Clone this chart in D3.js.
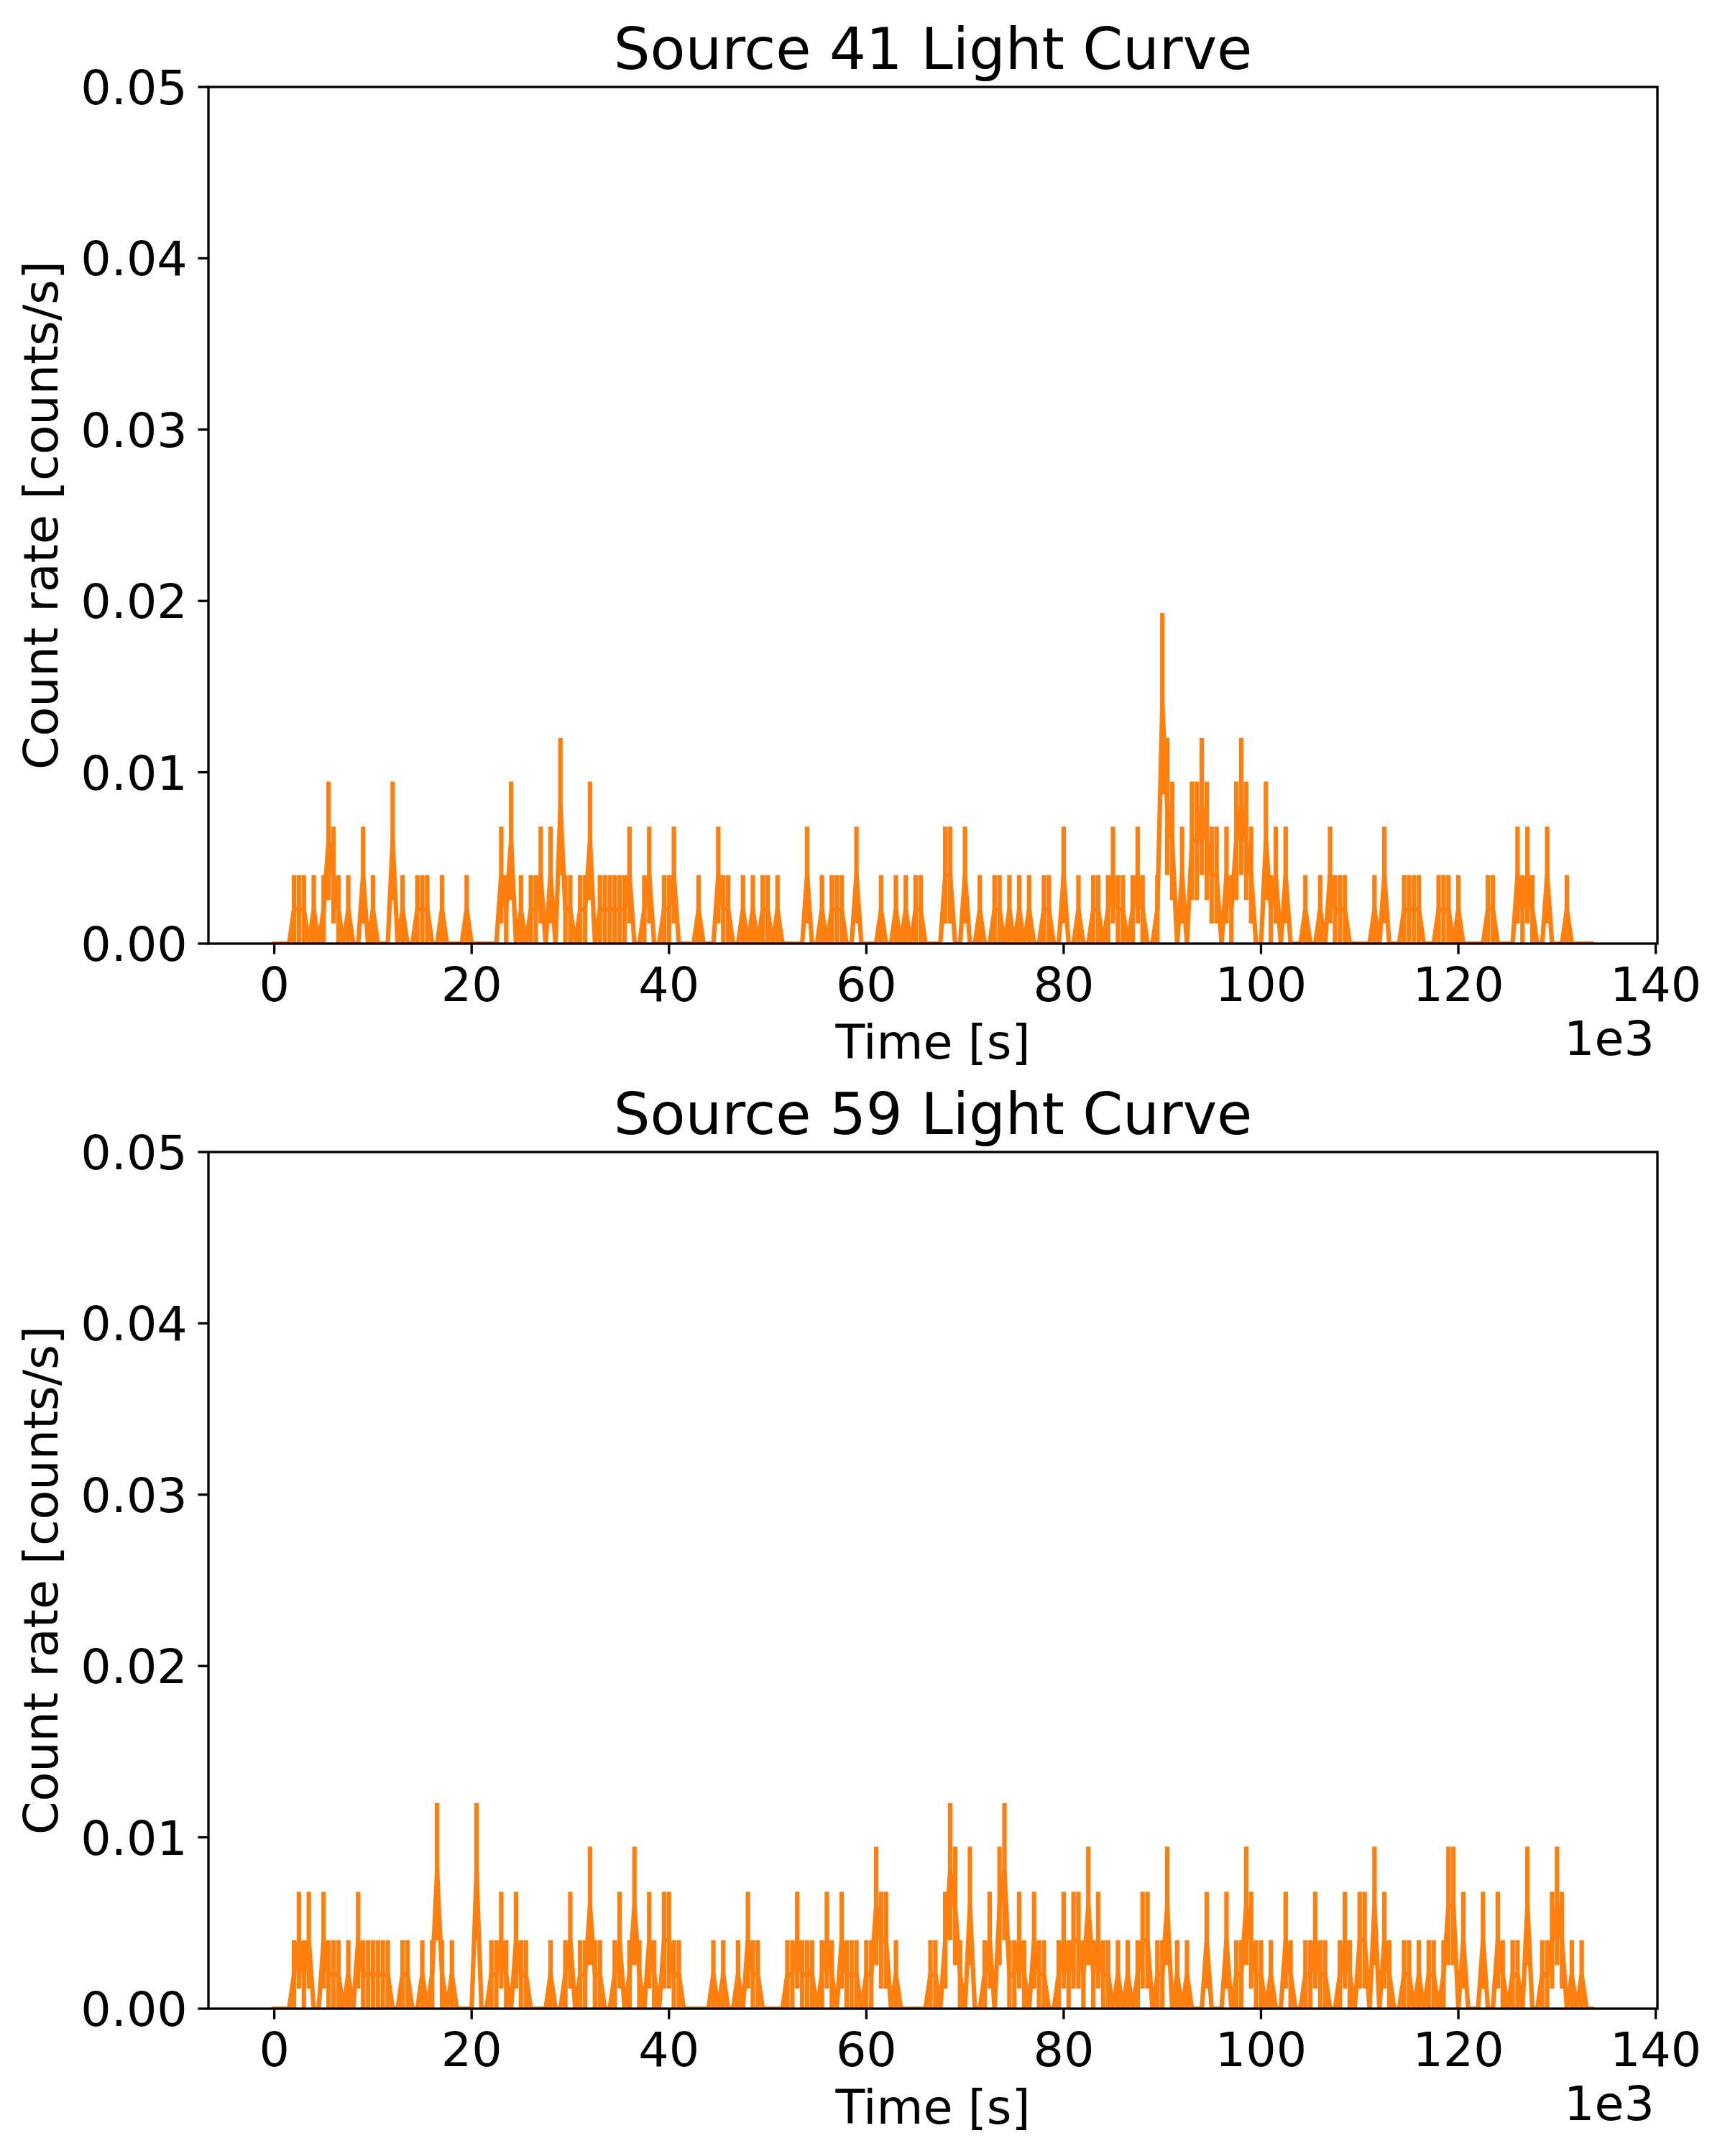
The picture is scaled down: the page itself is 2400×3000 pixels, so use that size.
<!DOCTYPE html>
<html>
<head>
<meta charset="utf-8">
<script src="https://cdn.jsdelivr.net/npm/d3@7"></script>
<style>
html, body { margin: 0; padding: 0; background: #ffffff; }
svg { display: block; }
text { font-family: "DejaVu Sans", sans-serif; fill: #000; }
</style>
</head>
<body>
<svg id="chart" width="2400" height="3000"></svg>
<script>
// ---------------- data ----------------
const binSize = 500; // seconds per bin
const titles = ["Source 41 Light Curve", "Source 59 Light Curve"];

// photon counts per 500 s bin (bin i starts at i*500 s)
const counts41 = [
  0,0,0,0,1,1,1,0,1,0, 1,3,2,1,0,1,0,0,2,0,
  1,0,0,0,3,0,1,0,0,1, 1,1,0,0,1,0,0,0,0,1,
  0,0,0,0,0,0,2,1,3,0, 1,0,1,1,2,0,2,0,4,1,
  1,0,1,1,3,0,1,1,1,1, 1,1,2,0,0,1,2,0,0,1,
  1,2,0,0,0,0,1,0,0,0, 2,1,1,0,0,1,0,1,0,1,
  1,0,1,0,0,0,0,0,2,0, 0,1,0,1,1,1,0,0,2,0,
  0,0,0,1,0,0,1,0,1,0, 1,1,0,0,0,0,2,2,0,0,
  2,0,0,1,0,0,1,1,0,1, 0,1,0,1,0,0,1,1,0,0,
  2,0,0,1,0,0,1,1,0,1, 2,1,1,0,1,2,1,0,0,1,
  7,4,3,0,2,0,3,3,4,3, 2,2,0,2,1,3,4,3,2,0,
  0,3,1,2,0,2,0,0,0,1, 0,0,1,0,2,1,1,1,0,0,
  0,0,0,1,0,2,0,0,0,1, 1,1,1,0,0,0,1,1,1,0,
  1,0,0,0,0,0,1,1,0,0, 0,0,2,1,2,1,0,0,2,0,
  0,0,1,0,0,0,0,0
];
const counts59 = [
  0,0,0,0,1,2,1,2,0,0, 2,1,1,1,0,1,0,2,1,1,
  1,1,1,1,0,0,1,1,0,0, 1,0,1,4,1,0,1,0,0,0,
  0,4,0,0,1,1,2,1,0,2, 1,1,0,0,0,0,1,0,0,1,
  2,0,1,1,3,1,1,0,0,1, 2,0,1,3,1,0,2,1,0,2,
  2,1,1,0,0,0,0,0,0,1, 0,1,0,0,1,0,2,1,1,0,
  0,0,0,0,1,1,2,1,1,1, 0,1,2,1,0,2,1,1,1,0,
  1,1,3,2,2,0,1,0,0,0, 0,0,0,1,1,0,2,4,3,1,
  0,3,0,0,1,2,0,3,4,1, 1,2,1,0,2,1,1,0,0,1,
  2,1,2,2,1,3,1,2,1,1, 0,1,0,1,0,1,2,2,0,1,
  1,3,0,1,0,1,0,0,0,2, 0,0,0,2,0,1,1,3,2,1,
  1,0,1,0,0,2,1,0,0,1, 1,2,1,1,0,0,1,2,1,0,
  2,2,0,3,0,2,1,0,0,1, 1,0,1,0,1,1,0,1,3,3,
  0,2,0,0,0,2,0,0,2,1, 0,1,1,0,3,0,0,1,1,2,
  3,2,0,1,0,1,0,0
];
const allCounts = [counts41, counts59];

const xTicks = [0, 20000, 40000, 60000, 80000, 100000, 120000, 140000];
const xTickLabels = ["0", "20", "40", "60", "80", "100", "120", "140"];
const yTicks = [0, 0.01, 0.02, 0.03, 0.04, 0.05];
const yTickLabels = ["0.00", "0.01", "0.02", "0.03", "0.04", "0.05"];
const xLabel = "Time [s]";
const yLabel = "Count rate [counts/s]";
const offsetLabel = "1e3";

// ---------------- layout ----------------
const W = 2400, H = 3000;
const axLeft = 290, axRight = 2306;
const axTops = [121, 1603];
const axH = 1192;
const orange = "#ff7f0e";
const lw = 6.25;          // 1.5 pt at 300 dpi
const spineW = 3.33;      // 0.8 pt
const tickLen = 14.6;     // 3.5 pt
const tickPad = 14.6;
const fsTick = 66.7;      // 16 pt
const fsTitle = 80;       // 19.2 pt

const svg = d3.select("#chart");
svg.append("rect").attr("width", W).attr("height", H).attr("fill", "#fff");

allCounts.forEach((counts, p) => {
  const data = counts.map((n, i) => ({
    t: i * binSize,
    rate: n / binSize,
    err: Math.sqrt(n) / binSize
  }));
  const tMin = d3.min(data, d => d.t), tMax = d3.max(data, d => d.t);
  const margin = 0.05 * (tMax - tMin);
  const top = axTops[p], bottom = top + axH;

  const x = d3.scaleLinear().domain([tMin - margin, tMax + margin]).range([axLeft, axRight]);
  const y = d3.scaleLinear().domain([0, 0.05]).range([bottom, top]);

  const g = svg.append("g");
  const clipId = "clip" + p;
  g.append("clipPath").attr("id", clipId)
    .append("rect").attr("x", axLeft).attr("y", top).attr("width", axRight - axLeft).attr("height", axH);

  const plot = g.append("g").attr("clip-path", `url(#${clipId})`);

  // data line
  const line = d3.line().x(d => x(d.t)).y(d => y(d.rate));
  plot.append("path").datum(data)
    .attr("d", line)
    .attr("fill", "none")
    .attr("stroke", orange)
    .attr("stroke-width", lw)
    .attr("stroke-linejoin", "round")
    .attr("stroke-linecap", "square");

  // error bars
  plot.append("g").selectAll("line")
    .data(data.filter(d => d.err > 0))
    .join("line")
    .attr("x1", d => x(d.t)).attr("x2", d => x(d.t))
    .attr("y1", d => y(d.rate - d.err)).attr("y2", d => y(d.rate + d.err))
    .attr("stroke", orange)
    .attr("stroke-width", lw)
    .attr("stroke-linecap", "butt");

  // spines
  g.append("rect")
    .attr("x", axLeft).attr("y", top)
    .attr("width", axRight - axLeft).attr("height", axH)
    .attr("fill", "none").attr("stroke", "#000").attr("stroke-width", spineW)
    .attr("stroke-linejoin", "miter");

  // x ticks
  const xt = g.append("g");
  xTicks.forEach((v, k) => {
    const px = x(v);
    xt.append("line")
      .attr("x1", px).attr("x2", px)
      .attr("y1", bottom).attr("y2", bottom + tickLen)
      .attr("stroke", "#000").attr("stroke-width", spineW);
    xt.append("text")
      .attr("x", px).attr("y", bottom + 80)
      .attr("text-anchor", "middle")
      .attr("font-size", fsTick)
      .text(xTickLabels[k]);
  });

  // y ticks
  const yt = g.append("g");
  yTicks.forEach((v, k) => {
    const py = y(v);
    yt.append("line")
      .attr("x1", axLeft - tickLen).attr("x2", axLeft)
      .attr("y1", py).attr("y2", py)
      .attr("stroke", "#000").attr("stroke-width", spineW);
    yt.append("text")
      .attr("x", axLeft - tickLen - tickPad).attr("y", py)
      .attr("dy", "0.36em")
      .attr("text-anchor", "end")
      .attr("font-size", fsTick)
      .text(yTickLabels[k]);
  });

  // title
  g.append("text")
    .attr("x", (axLeft + axRight) / 2).attr("y", top - 25)
    .attr("text-anchor", "middle")
    .attr("font-size", fsTitle)
    .text(titles[p]);

  // x label
  g.append("text")
    .attr("x", (axLeft + axRight) / 2).attr("y", bottom + 160)
    .attr("text-anchor", "middle")
    .attr("font-size", fsTick)
    .text(xLabel);

  // offset text
  g.append("text")
    .attr("x", axRight - 4).attr("y", bottom + 155)
    .attr("text-anchor", "end")
    .attr("font-size", fsTick)
    .text(offsetLabel);

  // y label
  g.append("text")
    .attr("transform", `translate(80,${(top + bottom) / 2}) rotate(-90)`)
    .attr("text-anchor", "middle")
    .attr("font-size", fsTick)
    .text(yLabel);
});
</script>
</body>
</html>
